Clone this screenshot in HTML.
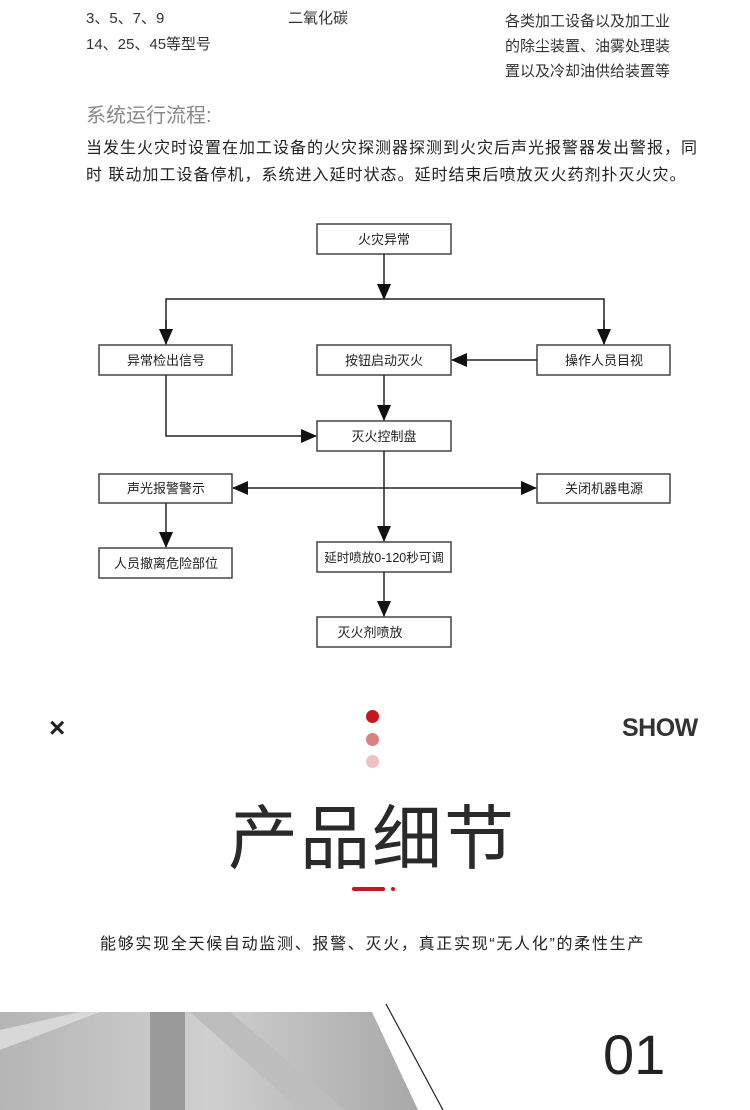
<!DOCTYPE html>
<html><head><meta charset="utf-8"><style>
body{margin:0;width:750px;height:1110px;background:#fff;position:relative;overflow:hidden;font-family:"Liberation Sans","Noto Sans CJK SC",sans-serif;color:#333}
.t{position:absolute;white-space:nowrap}
</style></head><body>
<div class="t" style="left:86px;top:9px;font-size:15px;line-height:20px">3、5、7、9</div>
<div class="t" style="left:86px;top:35px;font-size:15px;line-height:20px">14、25、45等型号</div>
<div class="t" style="left:288px;top:9px;font-size:15px;line-height:20px">二氧化碳</div>
<div class="t" style="left:505px;top:9px;font-size:15px;line-height:25px">各类加工设备以及加工业<br>的除尘装置、油雾处理装<br>置以及冷却油供给装置等</div>
<div class="t" style="left:86px;top:99px;font-size:20px;color:#888">系统运行流程:</div>
<div class="t" style="left:86px;top:135px;font-size:16px;letter-spacing:1px;line-height:27px;color:#222">当发生火灾时设置在加工设备的火灾探测器探测到火灾后声光报警器发出警报，同<br>时 联动加工设备停机，系统进入延时状态。延时结束后喷放灭火药剂扑灭火灾。</div>

<svg style="position:absolute;left:0;top:0" width="750" height="700">
<defs>
<marker id="b" markerWidth="16" markerHeight="14" refX="15" refY="7" orient="auto" markerUnits="userSpaceOnUse"><path d="M0,0 L16,7 L0,14 Z" fill="#111"/></marker></defs>
<g fill="#fff" stroke="#444" stroke-width="1.5">
<rect x="317" y="224" width="134" height="30"/>
<rect x="99" y="345" width="133" height="30"/>
<rect x="317" y="345" width="134" height="30"/>
<rect x="537" y="345" width="133" height="30"/>
<rect x="317" y="421" width="134" height="30"/>
<rect x="99" y="474" width="133" height="29"/>
<rect x="537" y="474" width="133" height="29"/>
<rect x="99" y="548" width="133" height="30"/>
<rect x="317" y="542" width="134" height="30"/>
<rect x="317" y="617" width="134" height="30"/>
</g>
<g stroke="#222" stroke-width="1.5" fill="none">
<line x1="384" y1="254" x2="384" y2="299" marker-end="url(#b)"/>
<polyline points="166,344 166,299 604,299 604,344"/>
<line x1="166" y1="320" x2="166" y2="344" marker-end="url(#b)"/>
<line x1="604" y1="320" x2="604" y2="344" marker-end="url(#b)"/>
<line x1="537" y1="360" x2="452" y2="360" marker-end="url(#b)"/>
<line x1="384" y1="375" x2="384" y2="420" marker-end="url(#b)"/>
<polyline points="166,375 166,436 316,436" marker-end="url(#b)"/>
<line x1="384" y1="451" x2="384" y2="541" marker-end="url(#b)"/>
<line x1="384" y1="488" x2="233" y2="488" marker-end="url(#b)"/>
<line x1="384" y1="488" x2="536" y2="488" marker-end="url(#b)"/>
<line x1="166" y1="503" x2="166" y2="547" marker-end="url(#b)"/>
<line x1="384" y1="572" x2="384" y2="616" marker-end="url(#b)"/>
</g>
<g font-size="13" fill="#222" text-anchor="middle" font-family="Liberation Sans,Noto Sans CJK SC,sans-serif">
<text x="384" y="244">火灾异常</text>
<text x="166" y="365">异常检出信号</text>
<text x="384" y="365">按钮启动灭火</text>
<text x="604" y="365">操作人员目视</text>
<text x="384" y="441">灭火控制盘</text>
<text x="166" y="493">声光报警警示</text>
<text x="604" y="493">关闭机器电源</text>
<text x="166" y="568">人员撤离危险部位</text>
<text x="384" y="562" font-size="12.5">延时喷放0-120秒可调</text>
<text x="370" y="637">灭火剂喷放</text>
</g>
</svg>

<div class="t" style="left:49px;top:712px;font-size:28px;font-weight:bold;color:#222">×</div>
<div class="t" style="left:622px;top:714px;font-size:25px;font-weight:bold;color:#333;letter-spacing:-0.5px">SHOW</div>
<div style="position:absolute;left:366px;top:710px;width:13px;height:13px;border-radius:50%;background:#c8161d"></div>
<div style="position:absolute;left:366px;top:733px;width:13px;height:13px;border-radius:50%;background:#d98080"></div>
<div style="position:absolute;left:366px;top:755px;width:13px;height:13px;border-radius:50%;background:#eec0c0"></div>
<div class="t" style="left:228px;top:794px;font-size:70px;line-height:90px;color:#2a2a2a;letter-spacing:2px">产品细节</div>
<div style="position:absolute;left:352px;top:887px;width:33px;height:4px;border-radius:2px;background:#c8161d"></div>
<div style="position:absolute;left:391px;top:887px;width:4px;height:4px;border-radius:2px;background:#c8161d"></div>
<div class="t" style="left:100px;top:930px;font-size:16px;letter-spacing:1.7px;color:#222">能够实现全天候自动监测、报警、灭火，真正实现“无人化”的柔性生产</div>

<svg style="position:absolute;left:0;top:990px" width="750" height="120">
<defs><linearGradient id="g" x1="0" y1="0" x2="1" y2="0"><stop offset="0" stop-color="#b5b5b5"/><stop offset="0.5" stop-color="#cfcfcf"/><stop offset="1" stop-color="#a8a8a8"/></linearGradient></defs>
<polygon points="0,22 372,22 418,120 0,120" fill="url(#g)"/>
<rect x="150" y="22" width="35" height="98" fill="#9a9a9a"/>
<polygon points="190,22 230,22 345,120 300,120" fill="#bdbdbd"/>
<polygon points="0,40 80,22 100,22 0,60" fill="#d8d8d8"/>
<line x1="386" y1="14" x2="443" y2="120" stroke="#222" stroke-width="1.2"/>
</svg>
<div class="t" style="left:603px;top:1022px;font-size:56px;color:#222">01</div>
</body></html>
